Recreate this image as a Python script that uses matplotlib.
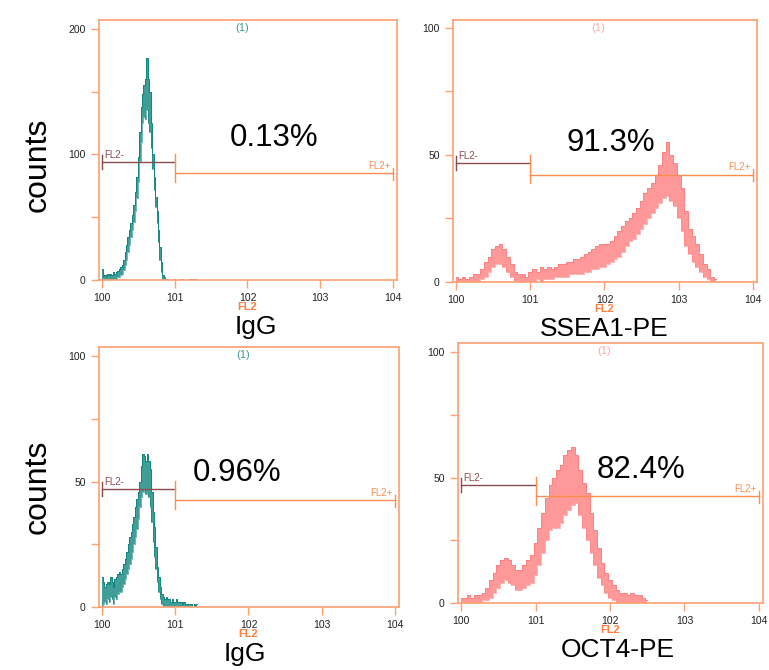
import numpy as np
import matplotlib
matplotlib.use('Agg')
import matplotlib.pyplot as plt

plt.rcParams['font.family'] = ['Liberation Sans', 'DejaVu Sans']

# histogram envelopes (low / high count per channel group), x in decades (10^0 .. 10^4)
igg1_x = np.arange(0, 1.31, 0.02)
igg1_lo = [0, 0, 0, 0, 1, 0, 1, 0, 1, 0, 1, 2, 2, 4, 5, 8, 12, 16, 22, 28,
           34, 40, 46, 55, 65, 78, 95, 110, 125, 130, 128, 135, 125, 118, 105, 88, 72, 58, 45, 30,
           16, 6, 1, 0, 0, 0, 0, 0, 0, 0, 0, 0, 0, 0, 0, 0, 0, 0, 0, 0,
           0, 0, 0, 0, 0, 0]
igg1_hi = [9, 3, 4, 3, 5, 4, 5, 4, 6, 5, 6, 7, 9, 10, 12, 16, 22, 28, 34, 40,
           45, 52, 60, 70, 82, 98, 118, 138, 148, 155, 160, 177, 160, 150, 125, 100, 82, 66, 55, 40,
           26, 14, 4, 2, 1, 1, 0, 0, 0, 0, 1, 0, 0, 0, 0, 1, 0, 0, 0, 0,
           1, 0, 1, 0, 1, 0]

ssea_x = np.arange(0, 3.51, 0.05)
ssea_lo = [0, 0, 0, 0, 0, 0, 0, 1, 2, 4, 6, 7, 7, 6, 4, 2, 0, 0, 0, 0,
           0, 0, 1, 0, 1, 1, 1, 2, 2, 2, 2, 3, 3, 3, 3, 4, 4, 5, 5, 6,
           6, 7, 8, 9, 10, 12, 14, 16, 17, 19, 21, 23, 25, 27, 29, 31, 33, 34, 32, 30,
           25, 20, 14, 11, 8, 6, 4, 2, 1, 0, 0]
ssea_hi = [2, 1, 2, 1, 2, 3, 3, 5, 8, 10, 13, 14, 15, 13, 10, 7, 4, 3, 3, 2,
           4, 5, 4, 6, 5, 6, 5, 6, 7, 7, 8, 8, 9, 9, 10, 11, 12, 13, 14, 15,
           15, 15, 16, 18, 20, 22, 24, 25, 27, 29, 32, 35, 37, 39, 42, 46, 51, 55, 50, 47,
           42, 37, 28, 21, 18, 15, 11, 7, 5, 2, 1]

igg2_x = np.arange(0, 1.31, 0.02)
igg2_lo = [0, 1, 2, 1, 3, 2, 4, 3, 1, 4, 3, 5, 6, 6, 8, 9, 11, 13, 15, 17,
           19, 22, 25, 28, 31, 35, 40, 44, 46, 47, 45, 46, 44, 40, 34, 26, 20, 15, 10, 6,
           3, 1, 0, 0, 0, 0, 0, 0, 0, 0, 0, 0, 0, 0, 0, 0, 0, 0, 0, 0,
           0, 0, 0, 0, 0, 0]
igg2_hi = [12, 10, 8, 9, 10, 9, 12, 10, 8, 11, 12, 13, 14, 13, 15, 17, 19, 22, 25, 28,
           30, 33, 36, 40, 43, 46, 50, 56, 61, 60, 58, 61, 58, 55, 46, 38, 32, 24, 16, 12,
           8, 5, 4, 3, 4, 3, 3, 2, 3, 2, 2, 3, 2, 2, 2, 1, 2, 1, 1, 1,
           1, 1, 0, 1, 0, 1]

oct4_x = np.arange(0, 2.51, 0.05)
oct4_lo = [0, 0, 0, 0, 0, 0, 1, 1, 2, 4, 6, 8, 9, 8, 7, 5, 5, 6, 7, 8,
           11, 15, 20, 25, 29, 30, 30, 32, 35, 37, 39, 40, 35, 30, 25, 20, 15, 10, 7, 4,
           2, 1, 0, 0, 0, 0, 0, 0, 0, 0, 0]
oct4_hi = [2, 2, 3, 2, 3, 3, 4, 6, 9, 12, 15, 17, 18, 17, 15, 13, 13, 15, 17, 19,
           24, 30, 36, 42, 47, 50, 53, 55, 59, 61, 62, 59, 53, 48, 44, 36, 29, 22, 16, 12,
           9, 7, 5, 4, 4, 3, 4, 3, 3, 2, 1]

panels = [
    dict(x=igg1_x, lo=igg1_lo, hi=igg1_hi, ymax=207, major=[0, 100, 200], minor=[50, 150],
         col='#10857f', tag='#3f9c98', pct='0.13%', pct_pos=(2.36, 0.546), name='IgG', name_x=2.12,
         rect=[99, 20, 397, 280]),
    dict(x=ssea_x, lo=ssea_lo, hi=ssea_hi, ymax=103.1, major=[0, 50, 100], minor=[25, 75],
         col='#ff8080', tag='#ffaaaa', pct='91.3%', pct_pos=(2.09, 0.53), name='SSEA1-PE', name_x=2.0,
         rect=[453, 20, 757, 282]),
    dict(x=igg2_x, lo=igg2_lo, hi=igg2_hi, ymax=103.6, major=[0, 50, 100], minor=[25, 75],
         col='#10857f', tag='#3f9c98', pct='0.96%', pct_pos=(1.84, 0.515), name='IgG', name_x=1.95,
         rect=[99, 347, 399, 607]),
    dict(x=oct4_x, lo=oct4_lo, hi=oct4_hi, ymax=103.6, major=[0, 50, 100], minor=[25, 75],
         col='#ff8080', tag='#ffaaaa', pct='82.4%', pct_pos=(2.42, 0.51), name='OCT4-PE', name_x=2.1,
         rect=[458, 343, 763, 603]),
]

frame = '#ffa070'
W, H = 769, 670
fig = plt.figure(figsize=(W / 100, H / 100), dpi=100)

for p in panels:
    l, t, r, b = p['rect']
    ax = fig.add_axes([l / W, 1 - b / H, (r - l) / W, (b - t) / H])
    x = np.asarray(p['x'])
    lo = np.asarray(p['lo'])
    hi = np.asarray(p['hi'])
    # dense noisy trace: shaded band between the envelopes, with stepped edges
    ax.fill_between(x, lo, hi, step='mid', color=p['col'], alpha=0.8, lw=0)
    ax.step(x, hi, where='mid', color=p['col'], lw=0.7)
    ax.step(x, lo, where='mid', color=p['col'], lw=0.7, alpha=0.6)

    ax.set_xlim(-0.041, 4.055)
    ax.set_ylim(0, p['ymax'])
    ax.set_xticks([0, 1, 2, 3, 4])
    ax.set_xticklabels(['100', '101', '102', '103', '104'])
    ax.set_yticks(p['major'])
    ax.set_yticks(p['minor'], minor=True)
    ax.tick_params(axis='both', which='both', colors=frame, labelcolor='#222222',
                   labelsize=7.5, length=6, width=1)
    for s in ax.spines.values():
        s.set_color(frame)
        s.set_linewidth(1.2)

    tr = ax.get_xaxis_transform()
    # gates
    ax.plot([0, 1], [0.455, 0.455], transform=tr, color='#8b4a50', lw=1)
    ax.plot([0, 0], [0.428, 0.482], transform=tr, color='#8b4a50', lw=1)
    ax.plot([1, 4], [0.41, 0.41], transform=tr, color='#ff8c50', lw=1)
    ax.plot([1, 1], [0.377, 0.485], transform=tr, color='#ff8c50', lw=1)
    ax.plot([4, 4], [0.385, 0.43], transform=tr, color='#ff8c50', lw=1)
    ax.text(0.03, 0.463, 'FL2-', transform=tr, color='#8b4a50', fontsize=7, va='bottom')
    ax.text(3.97, 0.418, 'FL2+', transform=tr, color='#ff8c50', fontsize=7, va='bottom', ha='right')

    ax.text(1.92, 0.97, '(1)', transform=tr, color=p['tag'], fontsize=8, ha='center', va='center')
    ax.text(2.0, -0.104, 'FL2', transform=tr, color='#ff7f3f', fontsize=8, fontweight='bold',
            ha='center', va='center')
    ax.text(p['pct_pos'][0], p['pct_pos'][1], p['pct'], transform=tr, fontsize=22.5,
            ha='center', va='center')
    ax.text(p['name_x'], -0.208, p['name'], transform=tr, fontsize=19, ha='center', va='baseline')

fig.text(38 / W, 1 - 165 / H, 'counts', rotation=90, fontsize=23, ha='center', va='center')
fig.text(38 / W, 1 - 487 / H, 'counts', rotation=90, fontsize=23, ha='center', va='center')

fig.savefig('out.png', dpi=100)
